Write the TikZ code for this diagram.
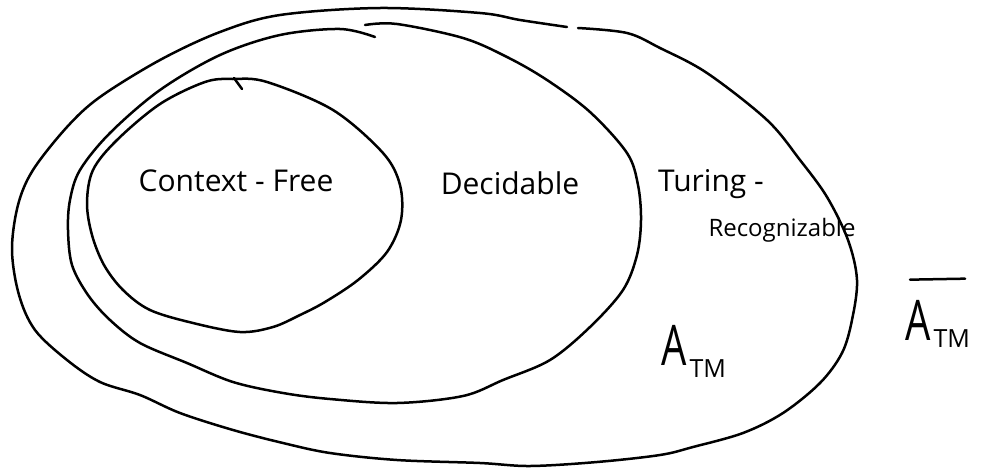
\documentclass[tikz,border=0pt]{standalone}
\usepackage{fontspec}
\setmainfont{Open Sans}
\begin{document}
\begin{tikzpicture}[x=1pt,y=-1pt,
  pen/.style={line width=2.5pt,line cap=round,line join=round},
  lbl/.style={inner sep=0pt,font=\fontsize{30}{32}\selectfont},
  sml/.style={inner sep=0pt,font=\fontsize{24}{26}\selectfont},
  big/.style={inner sep=0pt,font=\fontsize{40}{42}\selectfont}]
\useasboundingbox (0,0) rectangle (985,469);
% Turing-recognizable (outer)
\draw[pen] plot[smooth,tension=0.55] coordinates {
 (578,28) (627,33) (660,48) (707,73) (767,120) (800,160) (827,197) (848,240)
 (857,280) (852,320) (842,353) (820,383) (783,413) (743,433) (693,447) (660,455)
 (597,462) (530,466) (480,463) (397,460) (330,453) (283,443) (233,430) (180,413)
 (140,395) (100,382) (67,360) (35,330) (19,295) (12,250) (18,205) (33,170)
 (67,127) (100,97) (160,60) (220,32) (280,15) (380,8) (480,13) (520,20) (567,27)};
% Decidable
\draw[pen] plot[smooth,tension=0.55] coordinates {
 (365,25) (397,24) (463,38) (507,57) (547,80) (590,112) (627,153) (638,185)
 (641,220) (637,255) (623,290) (590,327) (550,360) (503,380) (463,396) (397,403)
 (330,399) (283,393) (233,382) (187,363) (140,343) (110,320) (88,295) (72,265)
 (68,230) (70,200) (80,170) (110,133) (160,90) (220,55) (280,35) (340,29) (375,37)};
% Context-free
\draw[pen] plot[smooth cycle,tension=0.55] coordinates {
 (233,79) (267,82) (333,110) (383,153) (400,185) (401,220) (387,252) (358,280)
 (325,302) (300,315) (273,327) (240,332) (193,323) (150,310) (123,290) (104,265)
 (92,235) (87,203) (93,170) (117,140) (160,104) (205,82)};
\draw[pen] (234,78) -- (242,89);
% labels
\node[lbl] (cf) at (236,181) {Context - Free};
\node[lbl] (dec) at (510,183) {Decidable};
\node[lbl] (tur) at (711,184) {Turing -};
\node[sml] (rec) at (782,230) {Recognizable};
\node[big,anchor=base west] (atm) at (661,365)
  {\scalebox{1}[1.4]{A}\kern3pt\raisebox{-12pt}{\fontsize{25}{27}\selectfont TM}};
\node[big,anchor=base west] (abar) at (905,340)
  {\scalebox{1}[1.4]{A}\kern3pt\raisebox{-7pt}{\fontsize{25}{27}\selectfont TM}};
\draw[pen] ([xshift=5pt,yshift=20pt]abar.north west) -- ([xshift=-5pt,yshift=21pt]abar.north east);
\end{tikzpicture}
\end{document}
